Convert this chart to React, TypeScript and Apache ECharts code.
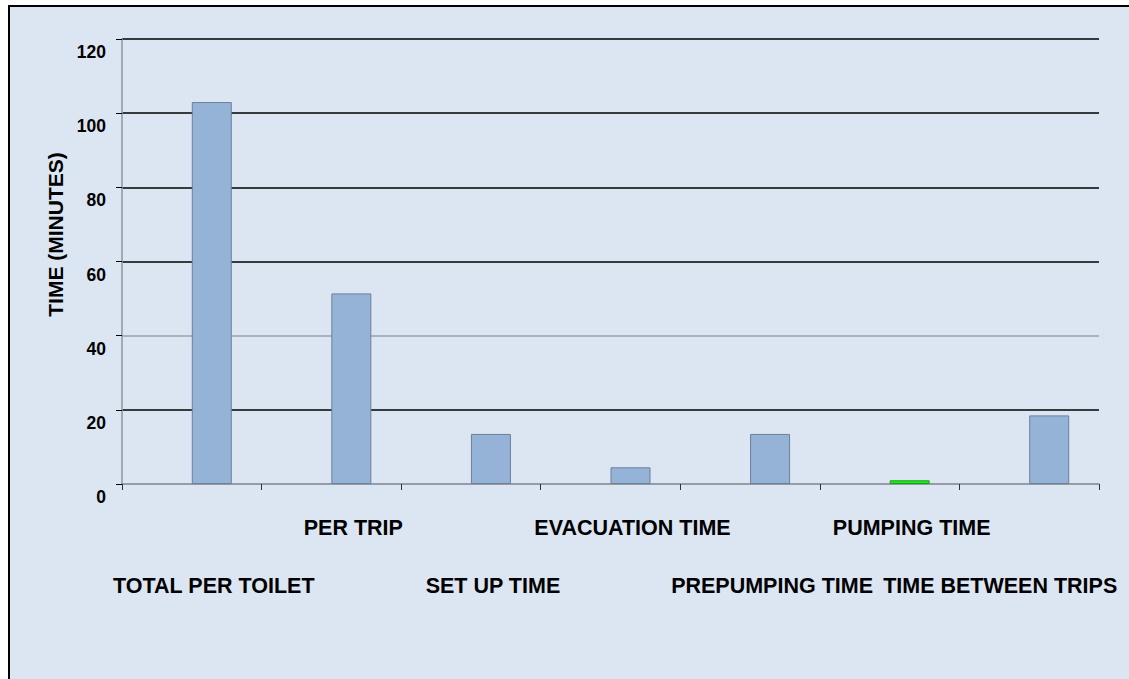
import React, { useEffect, useRef } from "react";
import * as echarts from "echarts";

const categories = [
  "TOTAL PER TOILET",
  "PER TRIP",
  "SET UP TIME",
  "EVACUATION TIME",
  "PREPUMPING TIME",
  "PUMPING TIME",
  "TIME BETWEEN TRIPS",
];
const timeValues = [103, 51.4, 13.5, 4.5, 13.5, 1.0, 18.5];
const highlightIndex = 5;
const yTicks = [0, 20, 40, 60, 80, 100, 120];

const FONT = "'Liberation Sans', Arial, Helvetica, sans-serif";

export default function App() {
  const ref = useRef<HTMLDivElement>(null);

  useEffect(() => {
    if (!ref.current) return;
    const chart = echarts.init(ref.current, null, { renderer: "svg" });
    const last = categories.length - 1;
    chart.setOption({
      animation: false,
      backgroundColor: "transparent",
      grid: {
        left: 112,
        top: 32,
        width: 977,
        height: 445,
        containLabel: false,
        outerBoundsMode: "none",
      },
      xAxis: {
        type: "category",
        data: categories,
        boundaryGap: true,
        axisLine: { show: true, lineStyle: { color: "#8e959e", width: 1.5 } },
        axisTick: {
          show: true,
          alignWithLabel: false,
          length: 6,
          lineStyle: { color: "#333", width: 1 },
        },
        axisLabel: {
          interval: 0,
          hideOverlap: false,
          margin: 15,
          color: "#000",
          fontFamily: FONT,
          fontWeight: "bold",
          fontSize: 21,
          lineHeight: 58,
          formatter: (v: string, i: number) => {
            const style = i === last ? "l" : "n";
            const t = `{${style}|${v}}`;
            return i % 2 === 0 ? "\n" + t : t;
          },
          rich: {
            n: {
              fontFamily: FONT,
              fontWeight: "bold",
              fontSize: 21.5,
              lineHeight: 58,
              color: "#000",
              padding: [0, 0, 0, 44],
            },
            l: {
              fontFamily: FONT,
              fontWeight: "bold",
              fontSize: 21.5,
              lineHeight: 58,
              color: "#000",
              padding: [0, 58, 0, 0],
            },
          },
        },
        splitLine: { show: false },
      },
      yAxis: {
        type: "value",
        min: 0,
        max: 120,
        interval: 20,
        name: "TIME (MINUTES)",
        nameLocation: "middle",
        nameGap: 53,
        nameTextStyle: {
          fontFamily: FONT,
          fontWeight: "bold",
          fontSize: 21,
          color: "#000",
          padding: [0, 0, 0, 54],
        },
        axisLine: { show: true, lineStyle: { color: "#8e959e", width: 1.5 } },
        axisTick: { show: true, length: 6, lineStyle: { color: "#000" } },
        axisLabel: {
          margin: 16,
          color: "#000",
          fontFamily: FONT,
          fontWeight: "bold",
          fontSize: 17.5,
          verticalAlign: "top",
          padding: [4, 0, 0, 0],
          formatter: (v: number) => (yTicks.includes(v) ? String(v) : ""),
        },
        splitLine: {
          show: true,
          lineStyle: {
            color: ["#9aa0a8", "#000", "#9aa0a8", "#000", "#000", "#000", "#000"],
            width: 1.5,
          },
        },
      },
      series: [
        {
          name: "spacer",
          type: "bar",
          barWidth: 40,
          barGap: "0%",
          data: categories.map(() => "-"),
        },
        {
          name: "time",
          type: "bar",
          barWidth: 40,
          barGap: "0%",
          data: timeValues.map((v, i) => ({
            value: v,
            itemStyle:
              i === highlightIndex
                ? { color: "#00ff00", borderColor: "#2f8f2f", borderWidth: 1 }
                : { color: "#95b3d7", borderColor: "#6e7f99", borderWidth: 1 },
          })),
        },
      ],
    });
    return () => chart.dispose();
  }, []);

  return (
    <div
      style={{
        position: "fixed",
        left: 8,
        top: 5,
        width: 1130,
        height: 690,
        boxSizing: "border-box",
        border: "2px solid #000",
        background: "#dce6f2",
      }}
    >
      <div ref={ref} style={{ width: 1126, height: 686 }} />
    </div>
  );
}
